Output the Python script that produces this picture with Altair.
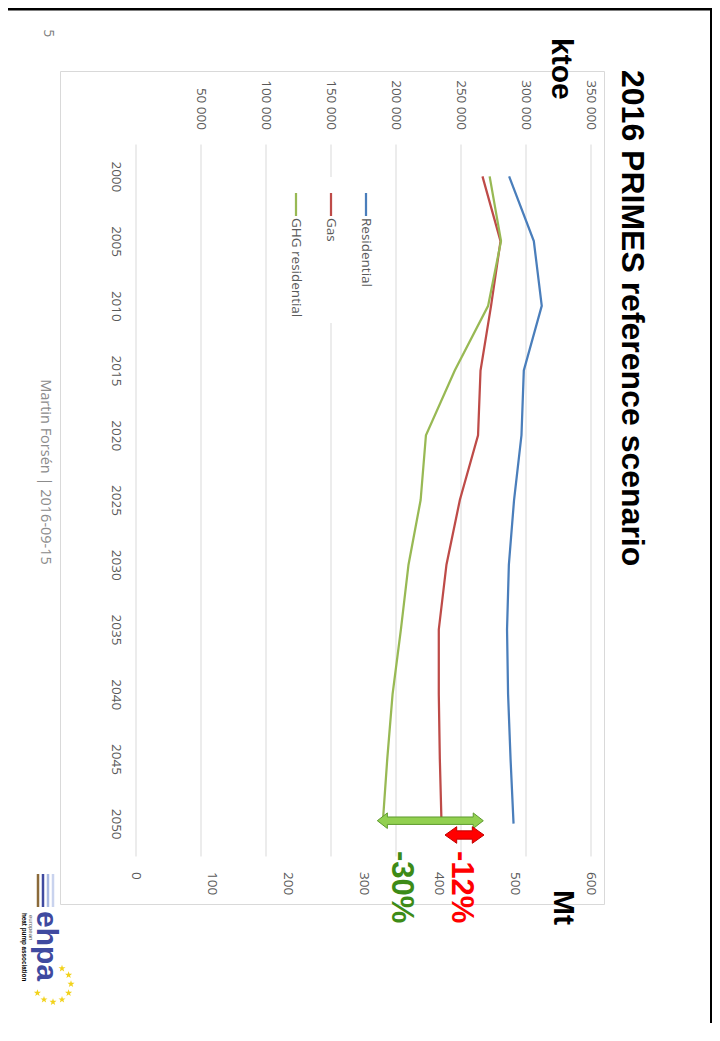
import altair as alt
import pandas as pd
import math

# ---------------- data ----------------
years = [2000, 2005, 2010, 2015, 2020, 2025, 2030, 2035, 2040, 2045, 2050]
residential = [287400, 306400, 312500, 298700, 296900, 291200, 287200, 285800, 286600, 288500, 290800]
gas = [266900, 280800, 273500, 265400, 263500, 249500, 239200, 233300, 233300, 234100, 235400]
ghg_residential = [467, 482, 465, 421, 383, 376, 360, 350, 339, 332, 326]

series_names = ["Residential", "Gas", "GHG residential"]
series_colors = ["#4A7EBB", "#BE4B48", "#98B954"]
ktoe_ticks = [0, 50000, 100000, 150000, 200000, 250000, 300000, 350000]
mt_ticks = [0, 100, 200, 300, 400, 500, 600]

title_text = "2016 PRIMES reference scenario"
left_unit = "ktoe"
right_unit = "Mt"
gas_change = "-12%"
ghg_change = "-30%"
footer = "Martin Fors\u00e9n | 2016-09-15"
page_no = "5"

# ---------------- layout helpers ----------------
X0, Y0 = 135.5, 144.0          # page position of plot origin
W, H = 455, 712
def vx(px):
    return px - X0
def vy(py):
    return py - Y0

one = pd.DataFrame({"k": [0]})
LAB = "#595959"

ktoe_df = pd.DataFrame({
    "year": years * 2,
    "series": [series_names[0]] * len(years) + [series_names[1]] * len(years),
    "value": residential + gas,
})
ghg_df = pd.DataFrame({"year": years, "ghg": ghg_residential})

y_enc = alt.Y(
    "year:O",
    scale=alt.Scale(type="point", padding=0.5),
    axis=alt.Axis(orient="left", title=None, domain=False, ticks=False, tickSize=0,
                  grid=False, labelAngle=90, labelAlign="center", labelBaseline="middle",
                  labelPadding=20.5, labelFont="Open Sans", labelFontSize=13.5,
                  labelColor=LAB, labelOverlap=False),
)

ktoe_lines = alt.Chart(ktoe_df).mark_line(strokeWidth=2.25).encode(
    x=alt.X("value:Q",
            scale=alt.Scale(domain=[0, 350000], nice=False, zero=True),
            axis=alt.Axis(orient="top", title=None, values=ktoe_ticks, domain=False,
                          ticks=False, tickSize=0, grid=True, gridColor="#D9D9D9",
                          gridWidth=1, labelAngle=90, labelAlign="right",
                          labelBaseline="middle", labelPadding=14.5, labelFont="Open Sans",
                          labelFontSize=13.5, labelColor=LAB, labelFlush=False,
                          labelOverlap=False,
                          labelExpr="datum.value == 0 ? '' : replace(format(datum.value, ','), ',', ' ')")),
    y=y_enc,
    color=alt.Color("series:N", scale=alt.Scale(domain=series_names[:2], range=series_colors[:2]),
                    legend=None),
    order=alt.Order("year:Q"),
)

ghg_line = alt.Chart(ghg_df).mark_line(strokeWidth=2.25, color=series_colors[2]).encode(
    x=alt.X("ghg:Q",
            scale=alt.Scale(domain=[0, 600], nice=False, zero=True),
            axis=alt.Axis(orient="bottom", title=None, values=mt_ticks, domain=False,
                          ticks=False, tickSize=0, grid=False, labelAngle=90,
                          labelAlign="left", labelBaseline="middle", labelPadding=15.5,
                          labelFont="Open Sans", labelFontSize=13.5, labelColor=LAB,
                          labelFlush=False, labelOverlap=False)),
    y=y_enc,
    order=alt.Order("year:Q"),
)

layers = []

# chart frame
layers.append(alt.Chart(one).mark_rect(fill="white", fillOpacity=0, stroke="#D9D9D9", strokeWidth=1).encode(
    x=alt.value(vx(60.5)), x2=alt.value(vx(604.5)), y=alt.value(vy(71.5)), y2=alt.value(vy(904.5))))

# slide border
layers.append(alt.Chart(one).mark_rule(color="black", strokeWidth=2.5).encode(
    x=alt.value(vx(8)), x2=alt.value(vx(712)), y=alt.value(vy(9.2))))
layers.append(alt.Chart(one).mark_rule(color="black", strokeWidth=3).encode(
    x=alt.value(vx(711.5)), y=alt.value(vy(8)), y2=alt.value(vy(1023))))

# legend background
layers.append(alt.Chart(one).mark_rect(color="white").encode(
    x=alt.value(vx(280)), x2=alt.value(vx(385)), y=alt.value(vy(177)), y2=alt.value(vy(323))))

# data lines
layers.append(ktoe_lines)
layers.append(ghg_line)

# legend entries
for i, (nm, col) in enumerate(zip(series_names, series_colors)):
    lx = 366 - 35 * i
    layers.append(alt.Chart(one).mark_rule(color=col, strokeWidth=2.25).encode(
        x=alt.value(vx(lx)), y=alt.value(vy(193)), y2=alt.value(vy(216))))
    layers.append(alt.Chart(one).mark_text(text=nm, angle=90, align="left", baseline="middle",
                                           font="Open Sans", fontSize=13.5, color=LAB).encode(
        x=alt.value(vx(lx)), y=alt.value(vy(218))))

# arrows
green_arrow = ("M-1,0L-0.81,-0.147L-0.81,-0.07L0.81,-0.07L0.81,-0.147L1,0"
               "L0.81,0.147L0.81,0.07L-0.81,0.07L-0.81,0.147Z")
red_arrow = ("M-1,0L-0.4,-0.426L-0.4,-0.213L0.4,-0.213L0.4,-0.426L1,0"
             "L0.4,0.426L0.4,0.213L-0.4,0.213L-0.4,0.426Z")
layers.append(alt.Chart(one).mark_point(shape=green_arrow, size=11236, filled=True, color="#92D050",
                                        stroke="#5E9A2E", strokeWidth=1, opacity=1).encode(
    x=alt.value(vx(430.3)), y=alt.value(vy(820.7))))
layers.append(alt.Chart(one).mark_point(shape=red_arrow, size=1521, filled=True, color="#FF0000",
                                        stroke="#C00000", strokeWidth=1, opacity=1).encode(
    x=alt.value(vx(464.5)), y=alt.value(vy(835))))

def label(text, px, py, size, color, weight="normal", font="Liberation Sans",
          align="left", baseline="alphabetic"):
    return alt.Chart(one).mark_text(text=text, angle=90, align=align, baseline=baseline,
                                    font=font, fontSize=size, fontWeight=weight,
                                    color=color).encode(x=alt.value(vx(px)), y=alt.value(vy(py)))

layers.append(label(title_text, 622, 70, 32, "black", "bold"))
layers.append(label(left_unit, 552, 38, 30, "black", "bold"))
layers.append(label(right_unit, 554, 890, 30, "black", "bold"))
layers.append(label(gas_change, 452, 851, 31, "#FF0000", "bold"))
layers.append(label(ghg_change, 392, 851, 31, "#3D8B17", "bold"))
layers.append(label(page_no, 47.5, 33.3, 14, "#7F7F7F", font="Open Sans", align="center", baseline="middle"))
layers.append(label(footer, 45, 472, 14.5, "#8C8C8C", font="Open Sans", align="center", baseline="middle"))

# ehpa logo (approximation)
for lx, col in [(38, "#8B6A3A"), (43, "#3F4AA0"), (48, "#A9B9E2"), (53, "#C9D3EE")]:
    layers.append(alt.Chart(one).mark_rule(color=col, strokeWidth=2.5).encode(
        x=alt.value(vx(lx)), y=alt.value(vy(874)), y2=alt.value(vy(907))))
layers.append(label("ehpa", 37, 911, 30, "#3F4AA0", "bold"))
layers.append(label("european", 29, 915, 6, "#555555"))
layers.append(label("heat pump association", 22, 913, 6.3, "black", "bold"))
star = ("M0,-1L0.235,-0.324L0.951,-0.309L0.38,0.124L0.588,0.809L0,0.4"
        "L-0.588,0.809L-0.38,0.124L-0.951,-0.309L-0.235,-0.324Z")
for ang in [-60, -30, 0, 30, 60, 90, 120, 150]:
    sx = 53 + 18 * math.cos(math.radians(ang))
    sy = 984 + 18 * math.sin(math.radians(ang))
    layers.append(alt.Chart(one).mark_point(shape=star, size=55, filled=True, color="#F2D21B",
                                            opacity=1).encode(x=alt.value(vx(sx)), y=alt.value(vy(sy))))

PAD_L = X0 - 8
PAD_T = Y0 - 8
TOTAL_W = 704
TOTAL_H = 1015

chart = alt.layer(*layers).resolve_scale(x="independent").properties(
    width=W, height=H,
    autosize=alt.AutoSizeParams(type="none"),
    padding={"left": PAD_L, "top": PAD_T, "right": TOTAL_W - PAD_L - W, "bottom": TOTAL_H - PAD_T - H},
    background="white",
).configure_view(stroke="transparent")

chart.save("out.html", embed_options={"renderer": "svg", "actions": False})
